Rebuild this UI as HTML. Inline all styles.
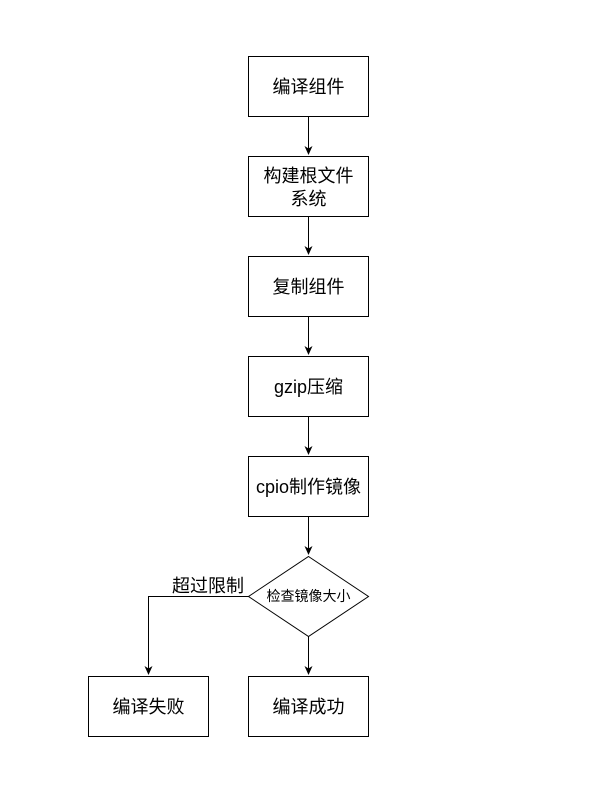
<!DOCTYPE html>
<html><head><meta charset="utf-8"><style>body{margin:0;background:#fff}</style></head><body>
<svg width="603" height="802" xmlns="http://www.w3.org/2000/svg" font-family="'Liberation Sans','Noto Sans CJK SC',sans-serif">
<defs><marker id="a" markerWidth="10" markerHeight="10" refX="8" refY="5" orient="auto" markerUnits="userSpaceOnUse"><path d="M0,1 L9,5 L0,9 L2.5,5 Z" fill="#000"/></marker></defs>
<g fill="#fff" stroke="#000" stroke-width="1">
<rect x="248.5" y="56.5" width="120" height="60"/>
<rect x="248.5" y="156.5" width="120" height="60"/>
<rect x="248.5" y="256.5" width="120" height="60"/>
<rect x="248.5" y="356.5" width="120" height="60"/>
<rect x="248.5" y="456.5" width="120" height="60"/>
<path d="M308.5,556.5 L368.5,596.5 L308.5,636.5 L248.5,596.5 Z"/>
<rect x="88.5" y="676.5" width="120" height="60"/>
<rect x="248.5" y="676.5" width="120" height="60"/>
</g>
<g stroke="#000" fill="none" marker-end="url(#a)">
<path d="M308.5,116.5 V154"/>
<path d="M308.5,216.5 V254"/>
<path d="M308.5,316.5 V354"/>
<path d="M308.5,416.5 V454"/>
<path d="M308.5,516.5 V554"/>
<path d="M308.5,636.5 V674"/>
<path d="M248.5,596.5 H148.5 V674"/>
</g>
<g font-size="18" text-anchor="middle" fill="#000">
<text x="308.5" y="93">编译组件</text>
<text x="308.5" y="182">构建根文件</text>
<text x="308.5" y="205">系统</text>
<text x="308.5" y="293">复制组件</text>
<text x="308.5" y="393">gzip压缩</text>
<text x="308.5" y="493">cpio制作镜像</text>
<text x="148.5" y="713">编译失败</text>
<text x="308.5" y="713">编译成功</text>
<text x="208" y="592">超过限制</text>
<text x="308.5" y="601" font-size="14">检查镜像大小</text>
</g>
</svg>
</body></html>
